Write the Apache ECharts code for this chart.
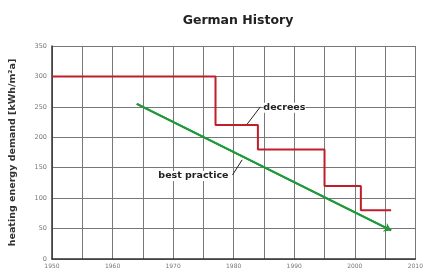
<!DOCTYPE html>
<html>
<head>
<meta charset="utf-8">
<script src="https://cdn.jsdelivr.net/npm/echarts@6/dist/echarts.min.js"></script>
<style>
html,body{margin:0;padding:0;background:#fff;}
#chart{width:426px;height:273px;}
</style>
</head>
<body>
<div id="chart"></div>
<script>
// decrees (step line) and best practice (straight line)
var decreeYears = [1950, 1977, 1984, 1995, 2001, 2006];
var decreeValues = [300, 220, 180, 120, 80, 80];
var practiceYears = [1964, 2006];
var practiceValues = [255, 47];

var dom = document.getElementById('chart');
var myChart = echarts.init(dom);

function pairs(xs, ys) {
    var out = [];
    for (var i = 0; i < xs.length; i++) out.push([xs[i], ys[i]]);
    return out;
}

var font = 'DejaVu Sans';

var option = {
    animation: false,
    title: {
        text: 'German History',
        left: 233,
        textAlign: 'center',
        top: 9,
        textStyle: { fontSize: 12.5, fontWeight: 'bold', color: '#222', fontFamily: font }
    },
    grid: { left: 50, right: 10, top: 46, bottom: 14 },
    xAxis: {
        type: 'value',
        min: 1950, max: 2010, interval: 5,
        axisLine: { show: true, lineStyle: { color: '#333', width: 1.5 } },
        axisTick: { show: false },
        axisLabel: {
            fontSize: 6, color: '#777', margin: 4, fontFamily: font,
            formatter: function (v) { return v % 10 === 0 ? String(v) : ''; }
        },
        splitLine: { show: true, lineStyle: { color: '#777', width: 1 } }
    },
    yAxis: {
        type: 'value',
        min: 0, max: 350, interval: 50,
        name: 'heating energy demand [kWh/m²a]',
        nameLocation: 'middle',
        nameGap: 34,
        nameTextStyle: { fontSize: 9.5, fontWeight: 'bold', color: '#333', fontFamily: font },
        axisLine: { show: true, lineStyle: { color: '#333', width: 1.5 } },
        axisTick: { show: false },
        axisLabel: { fontSize: 6.5, color: '#777', margin: 5, fontFamily: font },
        splitLine: { show: true, lineStyle: { color: '#777', width: 1 } }
    },
    series: [
        {
            name: 'decrees',
            type: 'line',
            step: 'end',
            symbol: 'none',
            lineStyle: { color: '#c01e2a', width: 2 },
            data: pairs(decreeYears, decreeValues)
        },
        {
            name: 'best practice',
            type: 'line',
            symbol: 'none',
            lineStyle: { color: '#1e9a3a', width: 2 },
            data: pairs(practiceYears, practiceValues),
            markLine: {
                silent: true,
                symbol: ['none', 'arrow'],
                symbolSize: 7,
                label: { show: false },
                lineStyle: { color: '#1e9a3a', width: 2, type: 'solid' },
                data: [[
                    { coord: [practiceYears[0], practiceValues[0]] },
                    { coord: [practiceYears[1], practiceValues[1]] }
                ]]
            }
        }
    ]
};

myChart.setOption(option);

// annotation texts with leader lines
var decreeTip = myChart.convertToPixel({ gridIndex: 0 }, [1982.1, 220]);
var decreeLbl = myChart.convertToPixel({ gridIndex: 0 }, [1984.4, 250]);
var practiceTip = myChart.convertToPixel({ gridIndex: 0 }, [1981.4, 163]);
var practiceLbl = myChart.convertToPixel({ gridIndex: 0 }, [1979.8, 138]);

myChart.setOption({
    graphic: [
        { type: 'line', shape: { x1: decreeTip[0], y1: decreeTip[1], x2: decreeLbl[0], y2: decreeLbl[1] },
          style: { stroke: '#222', lineWidth: 1 } },
        { type: 'text', x: decreeLbl[0] + 3, y: decreeLbl[1] + 1,
          style: { text: 'decrees', fontSize: 9.5, fontWeight: 'bold', fontFamily: font, fill: '#222',
          verticalAlign: 'middle', backgroundColor: '#fff' } },
        { type: 'line', shape: { x1: practiceTip[0], y1: practiceTip[1], x2: practiceLbl[0], y2: practiceLbl[1] },
          style: { stroke: '#222', lineWidth: 1 } },
        { type: 'text', x: practiceLbl[0] - 4, y: practiceLbl[1] + 1,
          style: { text: 'best practice', fontSize: 9.5, fontWeight: 'bold', fontFamily: font, fill: '#222',
          align: 'right', verticalAlign: 'middle', backgroundColor: '#fff' } }
    ]
});
</script>
</body>
</html>
